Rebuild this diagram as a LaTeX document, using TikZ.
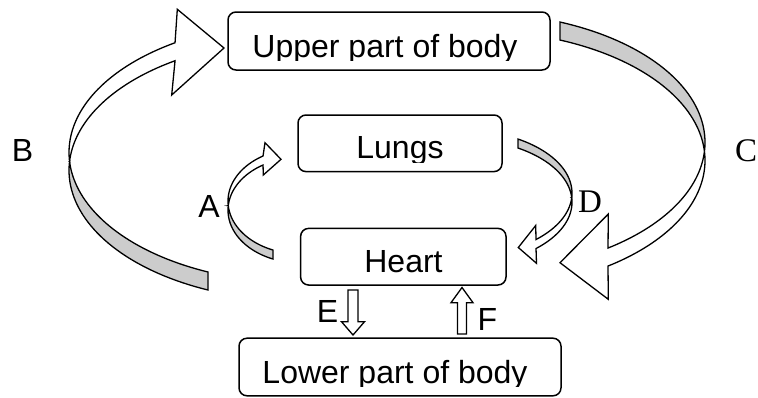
\documentclass[tikz,border=0pt]{standalone}
\usepackage{fontspec}
\setmainfont{Liberation Sans}
\newfontfamily\timesfont{Liberation Serif}

\begin{document}
\begin{tikzpicture}[x=0.5pt,y=-0.5pt,
	organ/.style={draw, line width=0.75pt, rounded corners=4pt, inner sep=0pt},
	word/.style={font=\fontsize{16}{18}\selectfont, inner sep=0pt, anchor=base},
	letter/.style={font=\fontsize{16.5}{18}\selectfont\timesfont, inner sep=0pt, anchor=base},
	front/.style={draw, fill=white, line width=0.65pt},
	back/.style={draw, fill=black!20, line width=0.65pt}]
	\useasboundingbox (0,0) rectangle (758,397);

	% boxes
	\node [organ, minimum width=161pt, minimum height=29pt] (upper) at (389,41) {};
	\node [organ, minimum width=102pt, minimum height=28.3pt] (lungs) at (400,143.3) {};
	\node [organ, minimum width=102.7pt, minimum height=28.3pt] (heart) at (403.3,256.7) {};
	\node [organ, minimum width=161pt, minimum height=28.8pt] (lower) at (400,367) {};

	% texts, cut at the bottom as in the boxes
	\begin{scope}
		\clip (228,12) rectangle (550,60);
		\node [word] (uppertext) at (385,57) {Upper part of body};
	\end{scope}
	\begin{scope}
		\clip (298,115) rectangle (502,162);
		\node [word] (lungstext) at (400,158.7) {Lungs};
	\end{scope}
	\node [word] (hearttext) at (403.5,272) {Heart};
	\begin{scope}
		\clip (239,338) rectangle (561,386);
		\node [word] (lowertext) at (395,383) {Lower part of body};
	\end{scope}

	% B
	\draw [front] (69.55,161.4)
		-- plot [domain=176.04:237.25, samples=40, variable=\t] ({300+231*cos(\t)}, {152.4+130.4*sin(\t)})
		-- (177.3,9.3) -- (224,48) -- (171.7,95)
		-- plot [domain=237.25:183.96, samples=40, variable=\t] ({300+231*cos(\t)}, {170.4+130.4*sin(\t)})
		-- cycle;
	\draw [back] (69.55,161.4)
		-- plot [domain=183.96:113.47, samples=40, variable=\t] ({300+231*cos(\t)}, {170.4+130.4*sin(\t)})
		-- plot [domain=113.47:176.04, samples=40, variable=\t] ({300+231*cos(\t)}, {152.4+130.4*sin(\t)})
		-- cycle;

	% C
	\draw [back]
		plot [domain=-68.14:3.98, samples=40, variable=\t] ({474+231*cos(\t)}, {142.4+129.7*sin(\t)})
		-- plot [domain=-3.98:-68.14, samples=40, variable=\t] ({474+231*cos(\t)}, {160.4+129.7*sin(\t)})
		-- cycle;
	\draw [front] (704.4,151.4)
		-- plot [domain=3.98:54.54, samples=40, variable=\t] ({474+231*cos(\t)}, {142.4+129.7*sin(\t)})
		-- (608.3,214) -- (560,262.7) -- (608.3,299.3)
		-- plot [domain=54.54:-3.98, samples=40, variable=\t] ({474+231*cos(\t)}, {160.4+129.7*sin(\t)})
		-- cycle;

	% A
	\draw [front] (228.26,205.7)
		-- plot [domain=175.1:239.1, samples=30, variable=\t] ({300+72*cos(\t)}, {201.2+52.68*sin(\t)})
		-- (265,142.7) -- (281,159.3) -- (263.3,175)
		-- plot [domain=239.1:184.9, samples=30, variable=\t] ({300+72*cos(\t)}, {210.2+52.68*sin(\t)})
		-- cycle;
	\draw [back] (228.26,205.7)
		-- plot [domain=184.9:112, samples=30, variable=\t] ({300+72*cos(\t)}, {210.2+52.68*sin(\t)})
		-- plot [domain=112:175.1, samples=30, variable=\t] ({300+72*cos(\t)}, {201.2+52.68*sin(\t)})
		-- cycle;

	% D
	\draw [back]
		plot [domain=-58.8:4.08, samples=30, variable=\t] ({460+112*cos(\t)}, {193.1+63.2*sin(\t)})
		-- plot [domain=-4.08:-58.8, samples=30, variable=\t] ({460+112*cos(\t)}, {202.1+63.2*sin(\t)})
		-- cycle;
	\draw [front] (571.7,197.6)
		-- plot [domain=4.08:47.26, samples=30, variable=\t] ({460+112*cos(\t)}, {193.1+63.2*sin(\t)})
		-- (535.7,225.5) -- (518.3,247.5) -- (536.5,263.3)
		-- plot [domain=47.26:-4.08, samples=30, variable=\t] ({460+112*cos(\t)}, {202.1+63.2*sin(\t)})
		-- cycle;

	% E and F
	\draw [front] (348,290) -- (358,290) -- (358,321.7) -- (364.5,321.7)
		-- (353,335) -- (341.5,321.7) -- (348,321.7) -- cycle;
	\draw [front] (457.5,334) -- (466.5,334) -- (466.5,302.7) -- (473,302.7)
		-- (462,287.5) -- (451,302.7) -- (457.5,302.7) -- cycle;

	% labels
	\node [word] (labA) at (209,217) {A};
	\node [word] (labB) at (22.5,161) {B};
	\node [letter] (labC) at (746,161) {C};
	\node [letter] (labD) at (590,212) {D};
	\node [word] (labE) at (327.5,322.5) {E};
	\node [word] (labF) at (487.5,330) {F};

\end{tikzpicture}
\end{document}
